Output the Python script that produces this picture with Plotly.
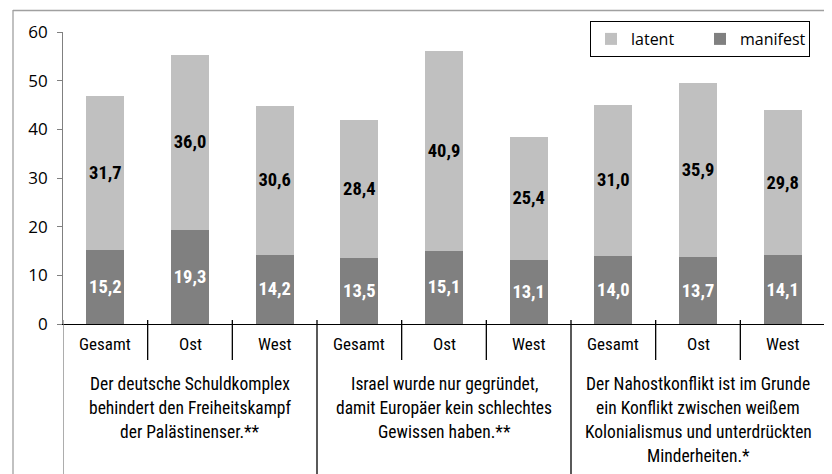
import plotly.graph_objects as go

# Data
regions = ["Gesamt", "Ost", "West"] * 3
manifest = [15.2, 19.3, 14.2, 13.5, 15.1, 13.1, 14.0, 13.7, 14.1]
latent = [31.7, 36.0, 30.6, 28.4, 40.9, 25.4, 31.0, 35.9, 29.8]
groups = [
    ["Der deutsche Schuldkomplex", "behindert den Freiheitskampf", "der Palästinenser.**"],
    ["Israel wurde nur gegründet,", "damit Europäer kein schlechtes", "Gewissen haben.**"],
    ["Der Nahostkonflikt ist im Grunde", "ein Konflikt zwischen weißem",
     "Kolonialismus und unterdrückten", "Minderheiten.*"],
]

FONT = "Liberation Sans Narrow, Arial Narrow, Roboto Condensed, sans-serif"
fmt = lambda v: f"{v:.1f}".replace(".", ",")
xs = list(range(len(regions)))

fig = go.Figure()
fig.add_trace(go.Bar(
    x=xs, y=manifest, name="manifest", width=0.45,
    marker=dict(color="#808080", line=dict(width=0)),
    text=[fmt(v) for v in manifest], textposition="inside",
    insidetextanchor="middle", textangle=0, constraintext="none",
    textfont=dict(color="white", size=18.5, family=FONT, weight="bold"),
))
fig.add_trace(go.Bar(
    x=xs, y=latent, name="latent", width=0.45,
    marker=dict(color="#c0c0c0", line=dict(width=0)),
    text=[fmt(v) for v in latent], textposition="inside",
    insidetextanchor="middle", textangle=0, constraintext="none",
    textfont=dict(color="black", size=18.5, family=FONT, weight="bold"),
))

# plot area in pixels: y 24..316, x 55..817
def py(pix):
    return (316 - pix) / 292

def px(pix):
    return (pix - 55) / 762

shapes = []
annotations = []
for i in range(len(regions) + 1):
    xb = i - 0.5
    bottom = 468 if i % 3 == 0 else 352
    col = "#808080" if i == 0 else "black"
    shapes.append(dict(type="line", xref="x", yref="paper", x0=xb, x1=xb,
                       y0=py(312), y1=py(bottom), line=dict(color=col, width=1.3)))
for i, r in enumerate(regions):
    annotations.append(dict(x=i, y=py(336), xref="x", yref="paper", text=r,
                            showarrow=False, yanchor="middle",
                            font=dict(size=17, family=FONT, color="black")))
for g, lines in enumerate(groups):
    for k, line in enumerate(lines):
        annotations.append(dict(x=g * 3 + 1, y=py(376 + 24 * k), xref="x", yref="paper",
                                text=line, showarrow=False, yanchor="middle",
                                font=dict(size=17.5, family=FONT, color="black")))

# outer frame (top and left edges of the original picture)
shapes.append(dict(type="line", xref="paper", yref="paper", x0=px(5), x1=px(840),
                   y0=py(2.5), y1=py(2.5), line=dict(color="#a0a0a0", width=1.3)))
shapes.append(dict(type="line", xref="paper", yref="paper", x0=px(5), x1=px(5),
                   y0=py(2), y1=py(480), line=dict(color="#a0a0a0", width=1.3)))

fig.update_layout(
    width=832, height=474,
    margin=dict(l=55, r=15, t=24, b=158),
    barmode="stack",
    plot_bgcolor="white", paper_bgcolor="white",
    font=dict(family=FONT, size=17, color="black"),
    showlegend=True,
    legend=dict(orientation="h", x=px(582), y=py(13), xanchor="left", yanchor="top",
                bordercolor="black", borderwidth=1, traceorder="reversed",
                entrywidth=64, itemwidth=30, tracegroupgap=0,
                font=dict(size=16, family="Open Sans, sans-serif")),
    xaxis=dict(range=[-0.5, 8.5], showticklabels=False, showgrid=False, zeroline=False,
               showline=True, linecolor="black", linewidth=1.3, ticks=""),
    yaxis=dict(range=[0, 60], dtick=10, showgrid=False, zeroline=False, showline=True,
               linecolor="#808080", linewidth=1.3, ticks="outside", ticklen=5,
               tickcolor="#808080", ticksuffix="\u2009\u2009",
               tickfont=dict(size=17, family="Open Sans, sans-serif")),
    shapes=shapes, annotations=annotations,
)

fig.write_html("out.html")
